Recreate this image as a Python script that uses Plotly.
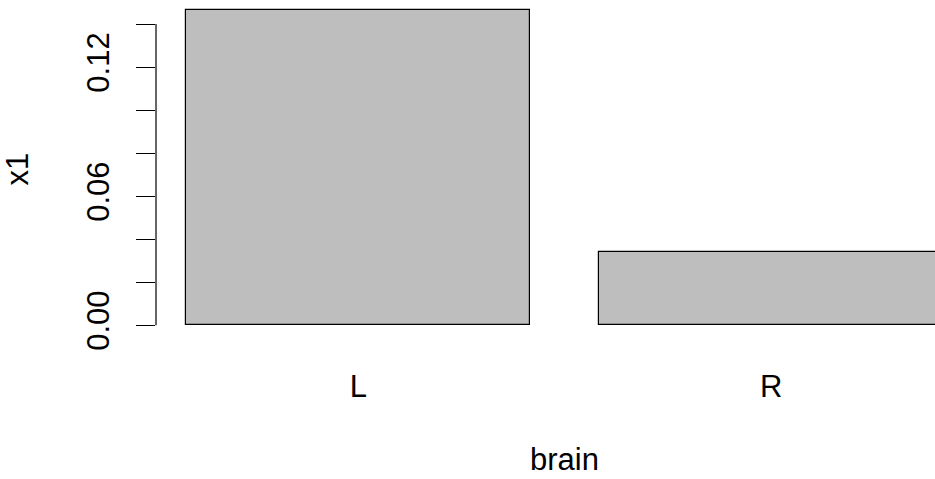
import plotly.graph_objects as go

categories = ["L", "R"]
values = [0.1465, 0.0341]
y_ticks = [0.00, 0.02, 0.04, 0.06, 0.08, 0.10, 0.12, 0.14]
y_tick_labels = ["0.00", "", "", "0.06", "", "", "0.12", ""]
x_title = "brain"
y_title = "x1"

# R barplot geometry: width 1, space 0.2
bar_width = 1.0
space = 0.2
centers = [space + bar_width / 2 + i * (bar_width + space) for i in range(len(categories))]
x_lo = space - 0.04 * (len(categories) * (bar_width + space))
x_hi = len(categories) * (bar_width + space) + 0.04 * (len(categories) * (bar_width + space))

FONT = "Liberation Sans, Arial, Helvetica, sans-serif"
FS = 31

fig = go.Figure()
fig.add_trace(go.Bar(
    x=centers, y=values, width=bar_width,
    marker=dict(color="#bebebe", line=dict(color="black", width=1.2)),
    showlegend=False, hoverinfo="skip",
))

fig.update_layout(
    width=935, height=479,
    margin=dict(l=156, r=0, t=0, b=141),
    paper_bgcolor="white", plot_bgcolor="white",
    font=dict(family=FONT, size=FS, color="black"),
    bargap=0,
    xaxis=dict(
        range=[0.112, 2.3765],
        tickmode="array", tickvals=centers, ticktext=categories,
        showgrid=False, zeroline=False, showline=False, ticks="",
        ticklabelstandoff=27,
    ),
    yaxis=dict(
        range=[-0.0059, 0.1512],
        tickmode="array", tickvals=y_ticks, ticktext=y_tick_labels,
        tickangle=-90,
        showgrid=False, zeroline=False, showline=False,
        ticks="outside", ticklen=19, tickwidth=1.2, tickcolor="black",
        ticklabelstandoff=15,
        title=dict(text=y_title, standoff=45, font=dict(size=FS)),
    ),
)

fig.add_shape(type="line", xref="paper", yref="y",
              x0=0, x1=0, y0=y_ticks[0], y1=y_ticks[-1],
              line=dict(color="black", width=1.2))

fig.add_annotation(text=x_title, xref="x", yref="paper",
                   x=(x_lo + x_hi) / 2, y=0, yanchor="top", xanchor="center",
                   yshift=-103, showarrow=False, borderpad=0,
                   font=dict(size=FS))

fig.write_html(
    "out.html",
    config={"displayModeBar": False},
    post_script="document.body.style.margin='0';document.body.style.overflow='hidden';",
)
